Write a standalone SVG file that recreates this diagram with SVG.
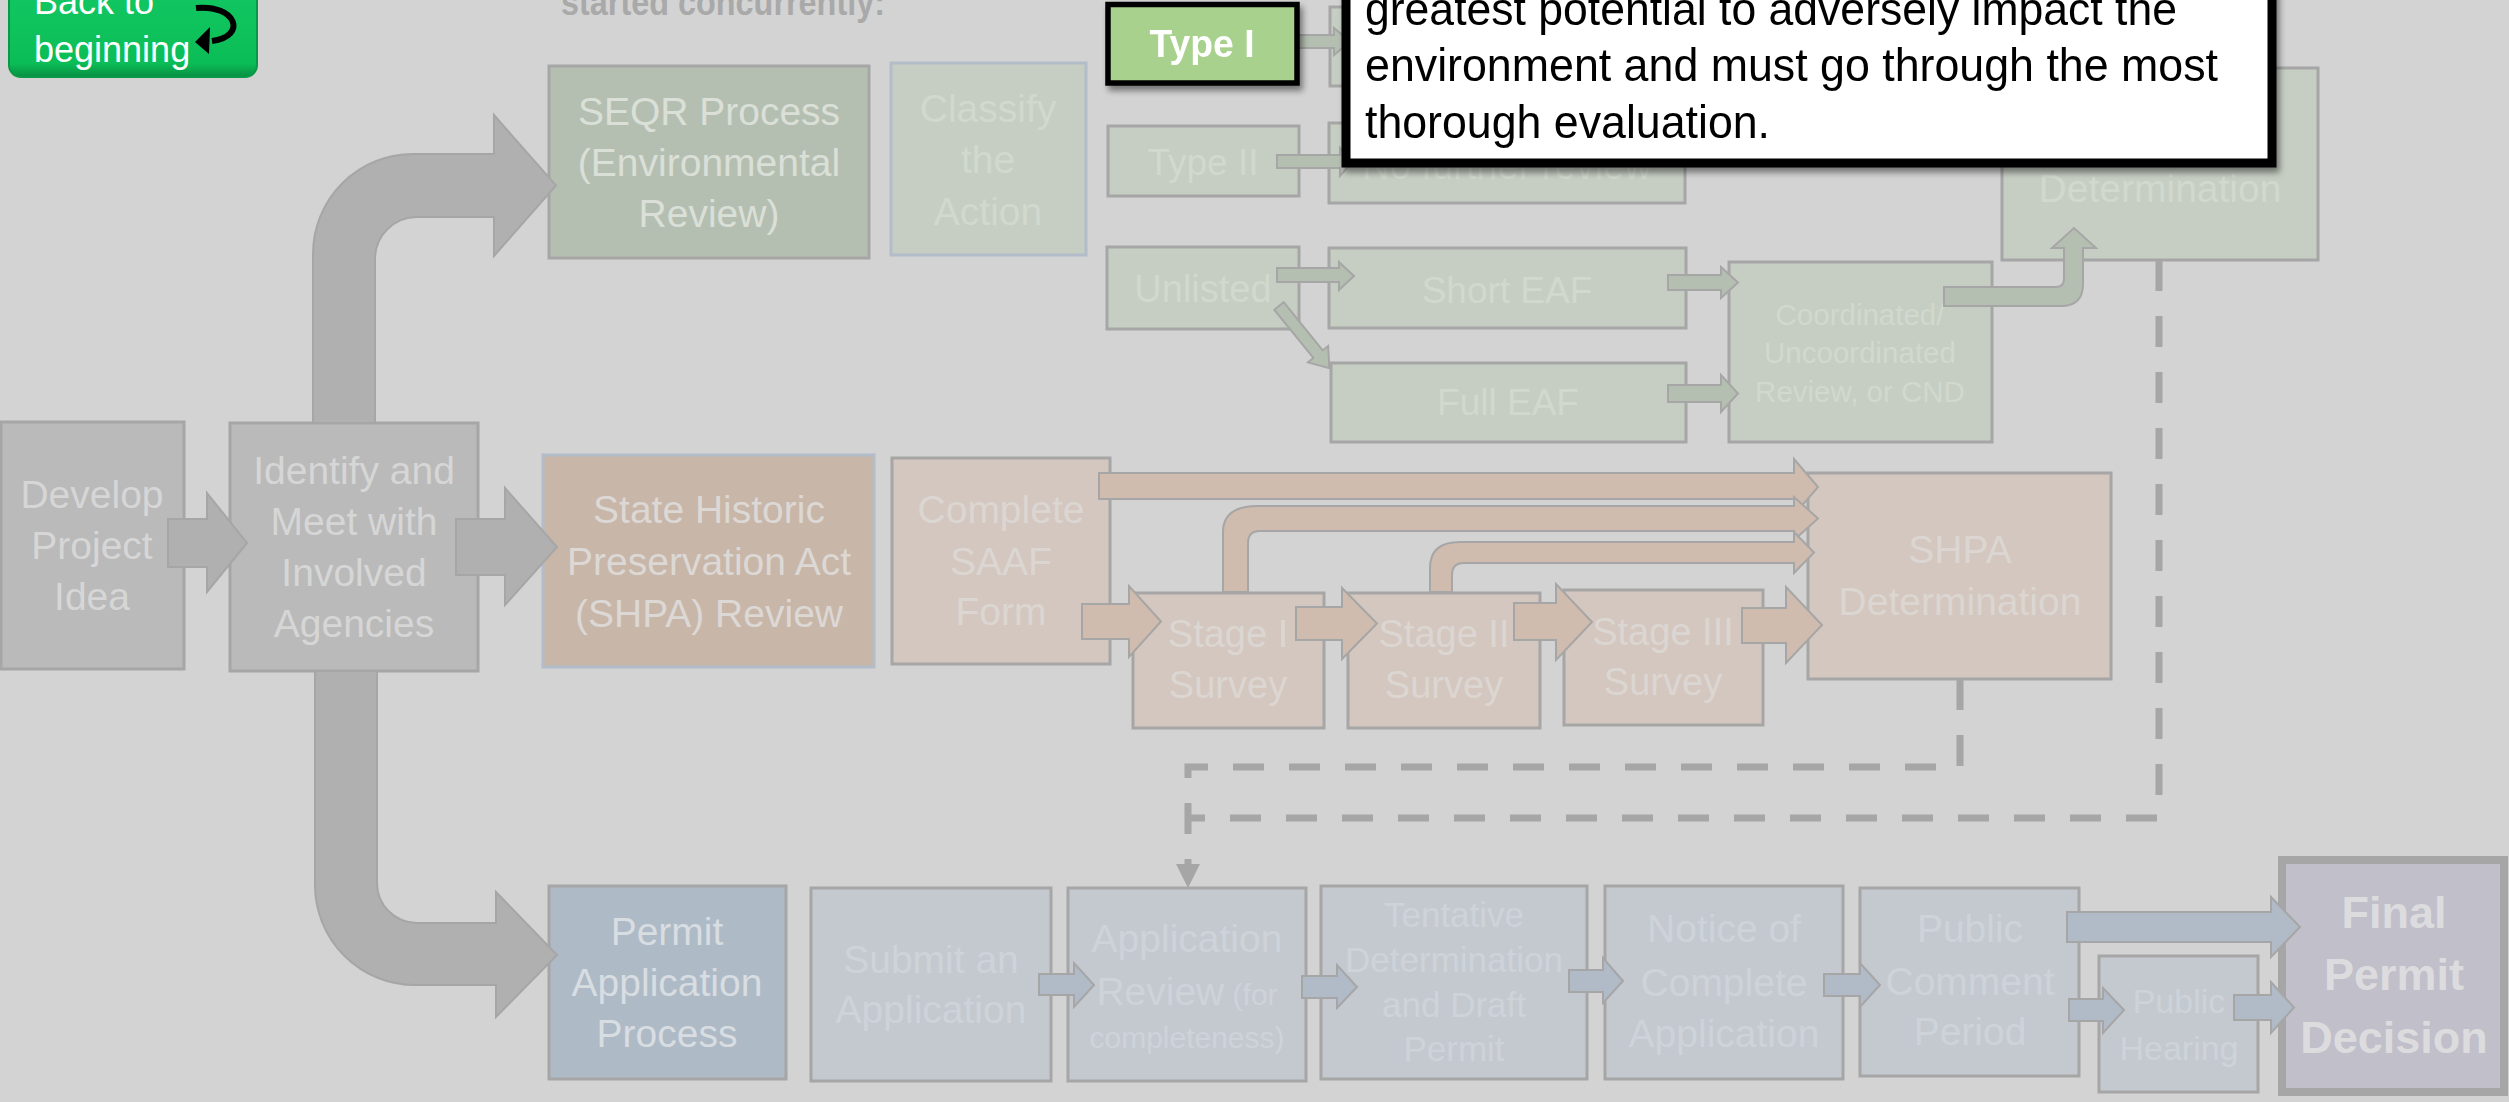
<svg xmlns="http://www.w3.org/2000/svg" width="2509" height="1102" viewBox="0 0 2509 1102">
<defs>
<linearGradient id="btn" x1="0" y1="0" x2="0" y2="1">
<stop offset="0" stop-color="#12c862"/><stop offset="0.85" stop-color="#0bbd57"/><stop offset="1" stop-color="#088f41"/>
</linearGradient>
<filter id="sh" x="-10%" y="-10%" width="130%" height="140%">
<feDropShadow dx="3" dy="5" stdDeviation="3" flood-color="#000" flood-opacity="0.45"/>
</filter>
<style>
text{font-family:"Liberation Sans",Arial,sans-serif;text-anchor:middle;font-size:39px}
.box{stroke-width:3}
.gray{fill:#bababa;stroke:#a6a6a6}
.seqr{fill:#b5bfb1;stroke:#a6a6a6}
.gn{fill:#c6cec3;stroke:#a6a6a6}
.shpa{fill:#c8b6a8;stroke:#b3bcc9}
.tan{fill:#d4c7bf;stroke:#a6a6a6}
.pa{fill:#aebac6;stroke:#a6a6a6}
.bl{fill:#c4c9d0;stroke:#a6a6a6}
.fin{fill:#c1bfca;stroke:#a6a6a6;stroke-width:8}
.tg{fill:#d6d6d6}
.ts{fill:#dadfd8}
.tgn{fill:#d1d8ce}
.tsh{fill:#dcd8d5}
.ttan{fill:#dcd6d2}
.tpa{fill:#d8dde2}
.tbl{fill:#ced3d9}
.tfin{fill:#dcdcdf;font-weight:bold;font-size:45px}
.ag{fill:#b0b0b0;stroke:#a6a6a6;stroke-width:2}
.agn{fill:#b5bfb1;stroke:#a6a6a6;stroke-width:2}
.at{fill:#d0bcae;stroke:#a6a6a6;stroke-width:2}
.ab{fill:#b1bac7;stroke:#a6a6a6;stroke-width:2}
.dash{fill:none;stroke:#a6a6a6;stroke-width:7;stroke-dasharray:31 25}
.pop{text-anchor:start;font-size:47px;fill:#000}
</style>
</defs>
<rect x="0" y="0" width="2509" height="1102" fill="#d3d3d3"/>

<g id="back-button">
<rect x="9" y="-15" width="248" height="92" rx="12" fill="url(#btn)" stroke="#0a9a47" stroke-width="2"/>
<text x="34" y="14" style="text-anchor:start;font-size:36px;fill:#fff">Back to</text>
<text x="34" y="62" style="text-anchor:start;font-size:36px;fill:#fff">beginning</text>
<path d="M196,8 C236,4 248,36 212,41" fill="none" stroke="#000" stroke-width="6"/>
<polygon points="195,42 210,27 209,54" fill="#000"/>
</g>

<text id="intro-text" x="561" y="15" style="text-anchor:start;font-weight:bold;font-size:36px;fill:#a9a9a9" textLength="324" lengthAdjust="spacingAndGlyphs">started concurrently:</text>

<g id="nodes">
<g id="develop"><rect class="box gray" x="1" y="422" width="183" height="247"/>
<text class="tg" x="92"><tspan x="92" y="508">Develop</tspan><tspan x="92" y="559">Project</tspan><tspan x="92" y="610">Idea</tspan></text></g>
<g id="identify"><rect class="box gray" x="230" y="423" width="248" height="248"/>
<text class="tg"><tspan x="354" y="484">Identify and</tspan><tspan x="354" y="535">Meet with</tspan><tspan x="354" y="586">Involved</tspan><tspan x="354" y="637">Agencies</tspan></text></g>
<g id="seqr"><rect class="box seqr" x="549" y="66" width="320" height="192"/>
<text class="ts"><tspan x="709" y="125">SEQR Process</tspan><tspan x="709" y="176">(Environmental</tspan><tspan x="709" y="227">Review)</tspan></text></g>
<g id="shpa-review"><rect class="box shpa" x="543" y="455" width="331" height="212"/>
<text class="tsh"><tspan x="709" y="523">State Historic</tspan><tspan x="709" y="575">Preservation Act</tspan><tspan x="709" y="627">(SHPA) Review</tspan></text></g>
<g id="permit-process"><rect class="box pa" x="549" y="886" width="237" height="193"/>
<text class="tpa"><tspan x="667" y="945">Permit</tspan><tspan x="667" y="996">Application</tspan><tspan x="667" y="1047">Process</tspan></text></g>
<g id="classify"><rect class="box gn" x="891" y="63" width="195" height="192" style="stroke:#b3bcc9"/>
<text class="tgn"><tspan x="988" y="122">Classify</tspan><tspan x="988" y="173">the</tspan><tspan x="988" y="225">Action</tspan></text></g>
<g id="type1-target"><rect class="box gn" x="1330" y="7" width="200" height="79"/></g>
<g id="type2"><rect class="box gn" x="1108" y="126" width="191" height="70"/>
<text class="tgn" x="1203" y="175" style="font-size:37px">Type II</text></g>
<g id="no-further"><rect class="box gn" x="1329" y="123" width="356" height="80"/>
<text class="tgn" x="1507" y="179" style="font-size:38px">No further review</text></g>
<g id="unlisted"><rect class="box gn" x="1107" y="247" width="192" height="82"/>
<text class="tgn" x="1203" y="302" style="font-size:38px">Unlisted</text></g>
<g id="short-eaf"><rect class="box gn" x="1329" y="248" width="357" height="80"/>
<text class="tgn" x="1507" y="303" style="font-size:37px">Short EAF</text></g>
<g id="full-eaf"><rect class="box gn" x="1331" y="363" width="355" height="79"/>
<text class="tgn" x="1508" y="415" style="font-size:37px">Full EAF</text></g>
<g id="coordinated"><rect class="box gn" x="1729" y="262" width="263" height="180"/>
<text class="tgn" style="font-size:29.5px"><tspan x="1860" y="325">Coordinated/</tspan><tspan x="1860" y="363">Uncoordinated</tspan><tspan x="1860" y="402">Review, or CND</tspan></text></g>
<g id="seqr-determination"><rect class="box gn" x="2002" y="68" width="316" height="192"/>
<text class="tgn" x="2160" y="202">Determination</text></g>
<g id="saaf"><rect class="box tan" x="892" y="458" width="218" height="206"/>
<text class="ttan"><tspan x="1001" y="523">Complete</tspan><tspan x="1001" y="575">SAAF</tspan><tspan x="1001" y="625">Form</tspan></text></g>
<g id="stage1"><rect class="box tan" x="1133" y="593" width="191" height="135"/>
<text class="ttan" style="font-size:38px"><tspan x="1228" y="647">Stage I</tspan><tspan x="1228" y="698">Survey</tspan></text></g>
<g id="stage2"><rect class="box tan" x="1348" y="593" width="192" height="135"/>
<text class="ttan" style="font-size:38px"><tspan x="1444" y="647">Stage II</tspan><tspan x="1444" y="698">Survey</tspan></text></g>
<g id="stage3"><rect class="box tan" x="1564" y="590" width="199" height="135"/>
<text class="ttan" style="font-size:38px"><tspan x="1663" y="645">Stage III</tspan><tspan x="1663" y="695">Survey</tspan></text></g>
<g id="shpa-determination"><rect class="box tan" x="1808" y="473" width="303" height="206"/>
<text class="ttan"><tspan x="1960" y="563">SHPA</tspan><tspan x="1960" y="615">Determination</tspan></text></g>
<g id="submit"><rect class="box bl" x="811" y="888" width="240" height="193"/>
<text class="tbl"><tspan x="931" y="973">Submit an</tspan><tspan x="931" y="1023">Application</tspan></text></g>
<g id="app-review"><rect class="box bl" x="1068" y="888" width="238" height="193"/>
<text class="tbl"><tspan x="1187" y="952">Application</tspan><tspan x="1187" y="1005">Review<tspan style="font-size:30px"> (for</tspan></tspan><tspan x="1187" y="1048" style="font-size:30px">completeness)</tspan></text></g>
<g id="tentative"><rect class="box bl" x="1321" y="886" width="266" height="193"/>
<text class="tbl" style="font-size:35px"><tspan x="1454" y="927">Tentative</tspan><tspan x="1454" y="972">Determination</tspan><tspan x="1454" y="1017">and Draft</tspan><tspan x="1454" y="1061">Permit</tspan></text></g>
<g id="notice"><rect class="box bl" x="1605" y="886" width="238" height="193"/>
<text class="tbl"><tspan x="1724" y="942">Notice of</tspan><tspan x="1724" y="996">Complete</tspan><tspan x="1724" y="1047">Application</tspan></text></g>
<g id="public-comment"><rect class="box bl" x="1860" y="888" width="219" height="188"/>
<text class="tbl"><tspan x="1970" y="942">Public</tspan><tspan x="1970" y="995">Comment</tspan><tspan x="1970" y="1045">Period</tspan></text></g>
<g id="public-hearing"><rect class="box bl" x="2099" y="956" width="159" height="136"/>
<text class="tbl" style="font-size:34px"><tspan x="2179" y="1013">Public</tspan><tspan x="2179" y="1060">Hearing</tspan></text></g>
<g id="final"><rect class="fin" x="2282" y="860" width="222" height="232"/>
<text class="tfin"><tspan x="2394" y="928">Final</tspan><tspan x="2394" y="990">Permit</tspan><tspan x="2394" y="1053">Decision</tspan></text></g>
</g>

<g id="connectors">
<path class="ag" d="M313,423 V254 A100,100 0 0 1 413,154 H494 V115 L556,185.5 L494,256 V217 H417 A42,42 0 0 0 375,259 V423 Z"/>
<path class="ag" d="M315,671 V885 A100,100 0 0 0 415,985 H496 V1017 L557,955 L496,892 V923 H417 A40,40 0 0 1 377,883 V671 Z"/>
<polygon class="ag" points="168,519 207,519 207,493 247,543 207,592 207,567 168,567"/>
<polygon class="ag" points="456,519 505,519 505,488 557,547 505,605 505,575 456,575"/>

<polygon class="agn" points="1298,35 1334,35 1334,28 1350,41.5 1334,55 1334,48 1298,48"/>
<polygon class="agn" points="1277,155 1340,155 1340,148 1353,161.5 1340,176 1340,168 1277,168"/>
<polygon class="agn" points="1277,268 1339,268 1339,262 1354,276 1339,290 1339,282 1277,282"/>
<polygon class="agn" points="0,-6 62,-6 62,-13 80,0 62,13 62,6 0,6" transform="translate(1279,306) rotate(51)"/>
<polygon class="agn" points="1668,275 1721,275 1721,267 1738,282.5 1721,298 1721,290 1668,290"/>
<polygon class="agn" points="1668,385 1721,385 1721,375 1738,393.5 1721,412 1721,402 1668,402"/>
<path class="agn" d="M1944,287 H2056 Q2064,287 2064,279 V248 H2052 L2074,228 L2096,248 H2083 V284 Q2083,306 2061,306 H1944 Z"/>

<polygon class="at" points="1099,473 1794,473 1794,459 1818,487 1794,515 1794,499 1099,499"/>
<path class="at" d="M1223,592 V532 Q1223,506 1258,506 H1794 V497 L1818,518.5 L1794,540 V531 H1260 Q1248,531 1248,543 V592 Z"/>
<path class="at" d="M1430,592 V568 Q1430,542 1460,542 H1794 V532 L1814,552.5 L1794,573 V563 H1464 Q1452,563 1452,575 V592 Z"/>
<polygon class="at" points="1082,604 1129,604 1129,586 1161,621.5 1129,657 1129,639 1082,639"/>
<polygon class="at" points="1296,607 1342,607 1342,588 1377,623.5 1342,659 1342,640 1296,640"/>
<polygon class="at" points="1514,603 1556,603 1556,584 1592,622 1556,660 1556,640 1514,640"/>
<polygon class="at" points="1742,608 1786,608 1786,587 1822,625 1786,663 1786,643 1742,643"/>

<polygon class="ab" points="1039,974 1074,974 1074,963 1094,985 1074,1007 1074,995 1039,995"/>
<polygon class="ab" points="1302,976 1337,976 1337,965 1357,987 1337,1008 1337,998 1302,998"/>
<polygon class="ab" points="1569,970 1603,970 1603,958 1623,981 1603,1003 1603,992 1569,992"/>
<polygon class="ab" points="1824,974 1860,974 1860,963 1880,985 1860,1007 1860,996 1824,996"/>
<polygon class="ab" points="2067,912 2271,912 2271,897 2300,927 2271,957 2271,942 2067,942"/>
<polygon class="ab" points="2069,999 2103,999 2103,988 2124,1010 2103,1033 2103,1021 2069,1021"/>
<polygon class="ab" points="2234,995 2271,995 2271,982 2294,1007.5 2271,1033 2271,1020 2234,1020"/>

<path class="dash" d="M1960,679 V767 H1188 V865"/>
<path class="dash" d="M2159,260 V818 H1188"/>
<polygon points="1176,864 1200,864 1188,888" fill="#a6a6a6"/>
</g>

<g id="type1" filter="url(#sh)">
<rect x="1108" y="4.5" width="189" height="78.5" fill="#a9d18e" stroke="#000" stroke-width="5.5"/>
<text x="1202" y="57" style="font-weight:bold;font-size:38px;fill:#fff" textLength="105" lengthAdjust="spacingAndGlyphs">Type I</text>
</g>

<g id="popup" filter="url(#sh)">
<rect x="1346" y="-20" width="926" height="183" fill="#fff" stroke="#000" stroke-width="9"/>
<text class="pop" x="1365" y="25" textLength="812" lengthAdjust="spacingAndGlyphs">greatest potential to adversely impact the</text>
<text class="pop" x="1365" y="81" textLength="853" lengthAdjust="spacingAndGlyphs">environment and must go through the most</text>
<text class="pop" x="1365" y="138" textLength="405" lengthAdjust="spacingAndGlyphs">thorough evaluation.</text>
</g>
</svg>
